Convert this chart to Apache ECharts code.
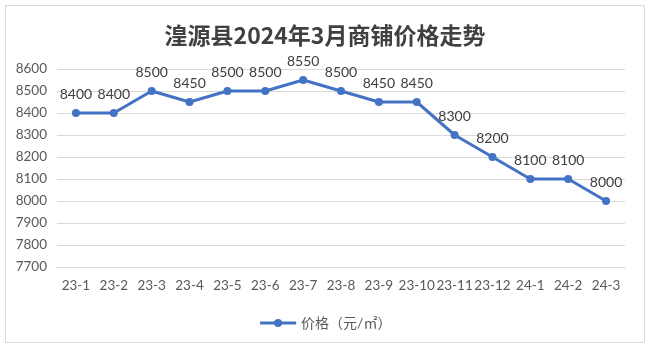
<!DOCTYPE html>
<html><head><meta charset="utf-8">
<script src="https://cdn.jsdelivr.net/npm/echarts@6/dist/echarts.min.js"></script>
<style>html,body{margin:0;padding:0;background:#fff}#c{width:650px;height:355px}</style>
</head><body><div id="c"></div>
<script>
const categories = ['23-1','23-2','23-3','23-4','23-5','23-6','23-7','23-8','23-9','23-10','23-11','23-12','24-1','24-2','24-3'];
const prices = [8400,8400,8500,8450,8500,8500,8550,8500,8450,8450,8300,8200,8100,8100,8000];
const seriesName = '价格（元/㎡）';
const titleText = '湟源县2024年3月商铺价格走势';
const yMin = 7700, yMax = 8600, yStep = 100;

const chart = echarts.init(document.getElementById('c'));
const fontFam = 'Lato, "Noto Sans CJK SC", sans-serif';
chart.setOption({
  animation: false,
  graphic: [{type:'rect', shape:{x:5.5,y:5.5,width:639,height:337}, style:{fill:'none', stroke:'#d9d9d9', lineWidth:1}}],
  title: {text: titleText, left: 'center', top: 19,
    textStyle: {fontFamily: '"Noto Sans CJK SC", sans-serif', fontSize: 23, fontWeight: 'bold', color: '#404040'}},
  legend: {data:[seriesName], bottom: 20, left: 'center', itemWidth: 36, itemHeight: 10, itemGap: 5,
    itemStyle: {color: '#4472C4'}, lineStyle: {width: 3, color: '#4472C4'},
    textStyle: {fontFamily: fontFam, fontSize: 14, color: '#595959'}},
  grid: {left: 57, right: 25, top: 69, bottom: 88},
  xAxis: {type: 'category', data: categories, boundaryGap: true,
    axisLine: {lineStyle: {color: '#d9d9d9'}}, axisTick: {show: false},
    axisLabel: {fontFamily: fontFam, fontSize: 13.5, color: '#595959', margin: 12, interval: 0}},
  yAxis: {type: 'value', min: yMin, max: yMax, interval: yStep,
    axisLine: {show: false}, axisTick: {show: false},
    splitLine: {lineStyle: {color: '#d9d9d9'}},
    axisLabel: {fontFamily: fontFam, fontSize: 13.5, color: '#595959', margin: 10, formatter: v => String(v)}},
  series: [{name: seriesName, type: 'line', data: prices, symbol: 'circle', symbolSize: 8,
    lineStyle: {color: '#4472C4', width: 3}, itemStyle: {color: '#4472C4'},
    label: {show: true, position: 'top', distance: 8, fontFamily: fontFam, fontSize: 14, color: '#404040'}}]
});
</script></body></html>
